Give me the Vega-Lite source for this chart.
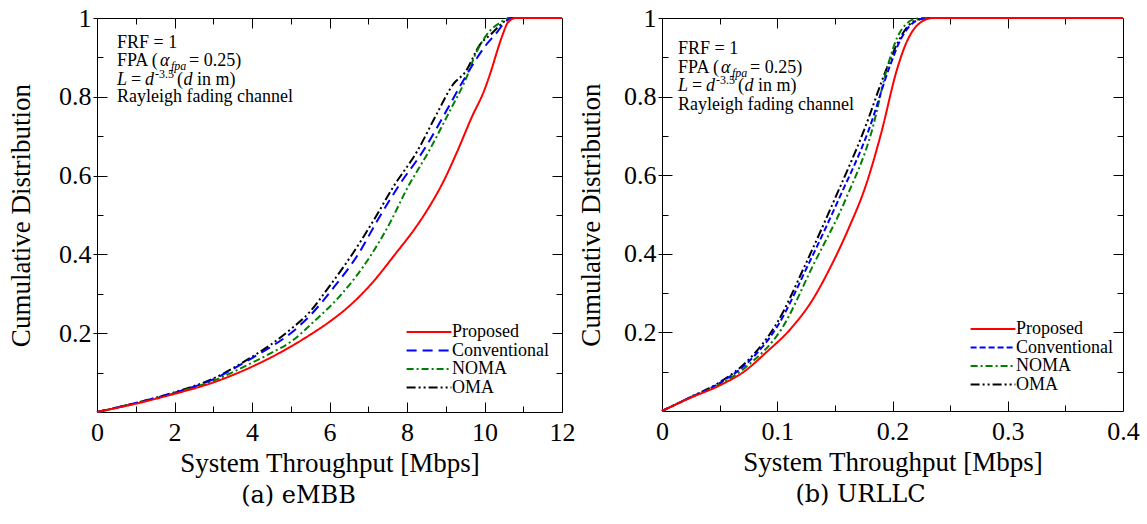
{
  "$schema": "https://vega.github.io/schema/vega-lite/v6.json",
  "padding": {"left": 7, "top": 4, "right": 5, "bottom": 5},
  "background": "white",
  "spacing": 1,
  "datasets": {
    "left": [
      {"s": "OMA", "x": 0, "y": 0}, {"s": "OMA", "x": 1, "y": 0.023}, {"s": "OMA", "x": 2, "y": 0.05}, {"s": "OMA", "x": 3, "y": 0.085}, {"s": "OMA", "x": 4, "y": 0.14}, {"s": "OMA", "x": 4.5, "y": 0.172}, {"s": "OMA", "x": 5, "y": 0.21}, {"s": "OMA", "x": 5.5, "y": 0.255}, {"s": "OMA", "x": 5.93, "y": 0.31}, {"s": "OMA", "x": 6.57, "y": 0.398}, {"s": "OMA", "x": 7.13, "y": 0.485}, {"s": "OMA", "x": 7.65, "y": 0.572}, {"s": "OMA", "x": 8.27, "y": 0.663}, {"s": "OMA", "x": 8.77, "y": 0.757}, {"s": "OMA", "x": 9.2, "y": 0.833}, {"s": "OMA", "x": 9.5, "y": 0.862}, {"s": "OMA", "x": 9.88, "y": 0.932}, {"s": "OMA", "x": 10.2, "y": 0.962}, {"s": "OMA", "x": 10.45, "y": 0.986}, {"s": "OMA", "x": 10.65, "y": 1}, {"s": "OMA", "x": 12, "y": 1},
      {"s": "NOMA", "x": 0, "y": 0}, {"s": "NOMA", "x": 1, "y": 0.022}, {"s": "NOMA", "x": 2, "y": 0.048}, {"s": "NOMA", "x": 3, "y": 0.079}, {"s": "NOMA", "x": 4, "y": 0.125}, {"s": "NOMA", "x": 4.5, "y": 0.15}, {"s": "NOMA", "x": 5, "y": 0.178}, {"s": "NOMA", "x": 5.58, "y": 0.228}, {"s": "NOMA", "x": 6.32, "y": 0.3}, {"s": "NOMA", "x": 7.05, "y": 0.395}, {"s": "NOMA", "x": 7.56, "y": 0.48}, {"s": "NOMA", "x": 7.99, "y": 0.565}, {"s": "NOMA", "x": 8.57, "y": 0.663}, {"s": "NOMA", "x": 9.11, "y": 0.765}, {"s": "NOMA", "x": 9.5, "y": 0.841}, {"s": "NOMA", "x": 9.8, "y": 0.915}, {"s": "NOMA", "x": 10.06, "y": 0.958}, {"s": "NOMA", "x": 10.4, "y": 0.988}, {"s": "NOMA", "x": 10.66, "y": 1}, {"s": "NOMA", "x": 12, "y": 1},
      {"s": "Conventional", "x": 0, "y": 0}, {"s": "Conventional", "x": 1, "y": 0.023}, {"s": "Conventional", "x": 2, "y": 0.049}, {"s": "Conventional", "x": 3, "y": 0.083}, {"s": "Conventional", "x": 4, "y": 0.137}, {"s": "Conventional", "x": 4.5, "y": 0.166}, {"s": "Conventional", "x": 5, "y": 0.2}, {"s": "Conventional", "x": 5.5, "y": 0.245}, {"s": "Conventional", "x": 6.1, "y": 0.315}, {"s": "Conventional", "x": 6.75, "y": 0.402}, {"s": "Conventional", "x": 7.26, "y": 0.49}, {"s": "Conventional", "x": 7.82, "y": 0.579}, {"s": "Conventional", "x": 8.42, "y": 0.663}, {"s": "Conventional", "x": 9.02, "y": 0.765}, {"s": "Conventional", "x": 9.45, "y": 0.841}, {"s": "Conventional", "x": 9.75, "y": 0.89}, {"s": "Conventional", "x": 10.06, "y": 0.934}, {"s": "Conventional", "x": 10.31, "y": 0.962}, {"s": "Conventional", "x": 10.49, "y": 0.985}, {"s": "Conventional", "x": 10.7, "y": 1}, {"s": "Conventional", "x": 12, "y": 1},
      {"s": "Proposed", "x": 0, "y": 0}, {"s": "Proposed", "x": 1, "y": 0.021}, {"s": "Proposed", "x": 2, "y": 0.046}, {"s": "Proposed", "x": 3, "y": 0.075}, {"s": "Proposed", "x": 4, "y": 0.115}, {"s": "Proposed", "x": 5, "y": 0.166}, {"s": "Proposed", "x": 5.5, "y": 0.196}, {"s": "Proposed", "x": 6, "y": 0.229}, {"s": "Proposed", "x": 6.5, "y": 0.268}, {"s": "Proposed", "x": 7.05, "y": 0.322}, {"s": "Proposed", "x": 7.73, "y": 0.405}, {"s": "Proposed", "x": 8.2, "y": 0.465}, {"s": "Proposed", "x": 8.6, "y": 0.525}, {"s": "Proposed", "x": 8.94, "y": 0.585}, {"s": "Proposed", "x": 9.3, "y": 0.662}, {"s": "Proposed", "x": 9.67, "y": 0.748}, {"s": "Proposed", "x": 10.0, "y": 0.818}, {"s": "Proposed", "x": 10.19, "y": 0.872}, {"s": "Proposed", "x": 10.33, "y": 0.917}, {"s": "Proposed", "x": 10.47, "y": 0.958}, {"s": "Proposed", "x": 10.6, "y": 0.988}, {"s": "Proposed", "x": 10.8, "y": 1}, {"s": "Proposed", "x": 12, "y": 1}
    ],
    "right": [
      {"s": "OMA", "x": 0, "y": 0}, {"s": "OMA", "x": 0.025, "y": 0.036}, {"s": "OMA", "x": 0.05, "y": 0.073}, {"s": "OMA", "x": 0.075, "y": 0.13}, {"s": "OMA", "x": 0.1, "y": 0.225}, {"s": "OMA", "x": 0.124, "y": 0.37}, {"s": "OMA", "x": 0.15, "y": 0.54}, {"s": "OMA", "x": 0.175, "y": 0.712}, {"s": "OMA", "x": 0.195, "y": 0.872}, {"s": "OMA", "x": 0.205, "y": 0.94}, {"s": "OMA", "x": 0.213, "y": 0.978}, {"s": "OMA", "x": 0.222, "y": 0.996}, {"s": "OMA", "x": 0.232, "y": 1}, {"s": "OMA", "x": 0.4, "y": 1},
      {"s": "NOMA", "x": 0, "y": 0}, {"s": "NOMA", "x": 0.025, "y": 0.035}, {"s": "NOMA", "x": 0.05, "y": 0.068}, {"s": "NOMA", "x": 0.075, "y": 0.117}, {"s": "NOMA", "x": 0.104, "y": 0.21}, {"s": "NOMA", "x": 0.131, "y": 0.37}, {"s": "NOMA", "x": 0.16, "y": 0.543}, {"s": "NOMA", "x": 0.182, "y": 0.712}, {"s": "NOMA", "x": 0.196, "y": 0.88}, {"s": "NOMA", "x": 0.204, "y": 0.95}, {"s": "NOMA", "x": 0.212, "y": 0.985}, {"s": "NOMA", "x": 0.22, "y": 0.998}, {"s": "NOMA", "x": 0.228, "y": 1}, {"s": "NOMA", "x": 0.4, "y": 1},
      {"s": "Conventional", "x": 0, "y": 0}, {"s": "Conventional", "x": 0.025, "y": 0.035}, {"s": "Conventional", "x": 0.05, "y": 0.071}, {"s": "Conventional", "x": 0.075, "y": 0.125}, {"s": "Conventional", "x": 0.1, "y": 0.215}, {"s": "Conventional", "x": 0.127, "y": 0.373}, {"s": "Conventional", "x": 0.154, "y": 0.543}, {"s": "Conventional", "x": 0.179, "y": 0.712}, {"s": "Conventional", "x": 0.198, "y": 0.88}, {"s": "Conventional", "x": 0.207, "y": 0.945}, {"s": "Conventional", "x": 0.215, "y": 0.98}, {"s": "Conventional", "x": 0.224, "y": 0.997}, {"s": "Conventional", "x": 0.233, "y": 1}, {"s": "Conventional", "x": 0.4, "y": 1},
      {"s": "Proposed", "x": 0, "y": 0}, {"s": "Proposed", "x": 0.025, "y": 0.034}, {"s": "Proposed", "x": 0.05, "y": 0.065}, {"s": "Proposed", "x": 0.072, "y": 0.102}, {"s": "Proposed", "x": 0.09, "y": 0.148}, {"s": "Proposed", "x": 0.1125, "y": 0.212}, {"s": "Proposed", "x": 0.13, "y": 0.28}, {"s": "Proposed", "x": 0.146, "y": 0.365}, {"s": "Proposed", "x": 0.162, "y": 0.465}, {"s": "Proposed", "x": 0.177, "y": 0.575}, {"s": "Proposed", "x": 0.19, "y": 0.705}, {"s": "Proposed", "x": 0.204, "y": 0.87}, {"s": "Proposed", "x": 0.211, "y": 0.93}, {"s": "Proposed", "x": 0.217, "y": 0.965}, {"s": "Proposed", "x": 0.225, "y": 0.99}, {"s": "Proposed", "x": 0.235, "y": 1}, {"s": "Proposed", "x": 0.4, "y": 1}
    ]
  },
  "hconcat": [
    {
      "width": 465,
      "height": 394,
      "title": {"text": "(a) eMBB", "orient": "bottom", "anchor": "middle", "frame": "group", "dx": -31, "offset": 8, "font": "DejaVu Serif, Liberation Serif, serif", "fontSize": 24, "fontWeight": "normal", "color": "black"},
      "data": {"name": "left"},
      "layer": [
        {
          "mark": {"type": "line", "strokeWidth": 2, "interpolate": "monotone"},
          "encoding": {
            "x": {"field": "x", "type": "quantitative", "scale": {"domain": [0, 12], "nice": false, "zero": false},
              "axis": {"orient": "bottom", "values": [0, 2, 4, 6, 8, 10, 12], "ticks": false, "labelPadding": 7, "labelFlush": false, "labelOverlap": false, "title": "System Throughput [Mbps]", "titlePadding": 5}},
            "y": {"field": "y", "type": "quantitative", "scale": {"domain": [0, 1], "nice": false},
              "axis": {"orient": "left", "values": [0.2, 0.4, 0.6, 0.8, 1], "tickSize": 4, "labelPadding": 2, "labelOverlap": false, "labelExpr": "datum.value == 1 ? '1' : format(datum.value, '.1f')", "title": "Cumulative Distribution", "titlePadding": 23}},
            "color": {"field": "s", "type": "nominal",
              "scale": {"domain": ["Proposed", "Conventional", "NOMA", "OMA"], "range": ["#ff0000", "#0000ff", "#008000", "#000000"]},
              "legend": {"title": null, "orient": "none", "legendX": 323, "legendY": 305, "symbolType": "M-2.8,0H2.8", "symbolSize": 256, "symbolStrokeWidth": 2, "labelOffset": 14, "rowPadding": 0.5, "padding": 0}},
            "strokeDash": {"field": "s", "type": "nominal",
              "scale": {"domain": ["Proposed", "Conventional", "NOMA", "OMA"], "range": [[1, 0], [10, 6], [7, 3, 2, 3], [9, 3, 2, 3, 2, 3]]},
              "legend": {"title": null, "orient": "none", "legendX": 323, "legendY": 305, "symbolType": "M-2.8,0H2.8", "symbolSize": 256, "symbolStrokeWidth": 2, "labelOffset": 14, "rowPadding": 0.5, "padding": 0}}
          }
        },
        {
          "mark": {"type": "point", "opacity": 0},
          "encoding": {
            "x": {"field": "x", "type": "quantitative", "axis": {"orient": "bottom", "values": [0, 2, 4, 6, 8, 10, 12], "tickSize": -10, "labels": false, "title": null}},
            "y": {"field": "y", "type": "quantitative", "axis": {"orient": "left", "values": [0.2, 0.4, 0.6, 0.8], "tickSize": -10, "labels": false, "title": null}}
          }
        },
        {
          "mark": {"type": "point", "opacity": 0},
          "encoding": {
            "x": {"field": "x", "type": "quantitative", "axis": {"orient": "bottom", "values": [1, 3, 5, 7, 9, 11], "tickSize": -6, "labels": false, "title": null}},
            "y": {"field": "y", "type": "quantitative", "axis": {"orient": "left", "values": [0.1, 0.3, 0.5, 0.7, 0.9], "tickSize": -6, "labels": false, "title": null}}
          }
        },
        {
          "mark": {"type": "point", "opacity": 0},
          "encoding": {
            "x": {"field": "x", "type": "quantitative", "axis": {"orient": "top", "values": [2, 4, 6, 8, 10], "tickSize": -10, "labels": false, "title": null}},
            "y": {"field": "y", "type": "quantitative", "axis": {"orient": "right", "values": [0.2, 0.4, 0.6, 0.8], "tickSize": -10, "labels": false, "title": null}}
          }
        },
        {
          "mark": {"type": "point", "opacity": 0},
          "encoding": {
            "x": {"field": "x", "type": "quantitative", "axis": {"orient": "top", "values": [1, 3, 5, 7, 9, 11], "tickSize": -6, "labels": false, "title": null}},
            "y": {"field": "y", "type": "quantitative", "axis": {"orient": "right", "values": [0.1, 0.3, 0.5, 0.7, 0.9], "tickSize": -6, "labels": false, "title": null}}
          }
        },
        {
          "data": {"values": [{"x": 0.516, "y": 0.925, "t": "FRF = 1"}, {"x": 0.516, "y": 0.879, "t": "FPA ("}, {"x": 0.516, "y": 0.786, "t": "Rayleigh fading channel"}]},
          "mark": {"type": "text"},
          "encoding": {"x": {"field": "x", "type": "quantitative", "axis": null}, "y": {"field": "y", "type": "quantitative", "axis": null}, "text": {"field": "t"}}
        },
        {
          "data": {"values": [{"x": 0.516, "y": 0.879, "t": "α"}]},
          "mark": {"type": "text", "dx": 43, "fontStyle": "italic"},
          "encoding": {"x": {"field": "x", "type": "quantitative", "axis": null}, "y": {"field": "y", "type": "quantitative", "axis": null}, "text": {"field": "t"}}
        },
        {
          "data": {"values": [{"x": 0.516, "y": 0.879, "t": "fpa"}]},
          "mark": {"type": "text", "dx": 54, "dy": 4, "fontSize": 12, "fontStyle": "italic"},
          "encoding": {"x": {"field": "x", "type": "quantitative", "axis": null}, "y": {"field": "y", "type": "quantitative", "axis": null}, "text": {"field": "t"}}
        },
        {
          "data": {"values": [{"x": 0.516, "y": 0.879, "t": "= 0.25)"}]},
          "mark": {"type": "text", "dx": 72},
          "encoding": {"x": {"field": "x", "type": "quantitative", "axis": null}, "y": {"field": "y", "type": "quantitative", "axis": null}, "text": {"field": "t"}}
        },
        {
          "data": {"values": [{"x": 0.516, "y": 0.83, "t": "L"}]},
          "mark": {"type": "text", "fontStyle": "italic"},
          "encoding": {"x": {"field": "x", "type": "quantitative", "axis": null}, "y": {"field": "y", "type": "quantitative", "axis": null}, "text": {"field": "t"}}
        },
        {
          "data": {"values": [{"x": 0.516, "y": 0.83, "t": "="}]},
          "mark": {"type": "text", "dx": 14},
          "encoding": {"x": {"field": "x", "type": "quantitative", "axis": null}, "y": {"field": "y", "type": "quantitative", "axis": null}, "text": {"field": "t"}}
        },
        {
          "data": {"values": [{"x": 0.516, "y": 0.83, "t": "d"}]},
          "mark": {"type": "text", "dx": 28, "fontStyle": "italic"},
          "encoding": {"x": {"field": "x", "type": "quantitative", "axis": null}, "y": {"field": "y", "type": "quantitative", "axis": null}, "text": {"field": "t"}}
        },
        {
          "data": {"values": [{"x": 0.516, "y": 0.83, "t": "-3.5"}]},
          "mark": {"type": "text", "dx": 38, "dy": -7, "fontSize": 12},
          "encoding": {"x": {"field": "x", "type": "quantitative", "axis": null}, "y": {"field": "y", "type": "quantitative", "axis": null}, "text": {"field": "t"}}
        },
        {
          "data": {"values": [{"x": 0.516, "y": 0.83, "t": "("}]},
          "mark": {"type": "text", "dx": 60},
          "encoding": {"x": {"field": "x", "type": "quantitative", "axis": null}, "y": {"field": "y", "type": "quantitative", "axis": null}, "text": {"field": "t"}}
        },
        {
          "data": {"values": [{"x": 0.516, "y": 0.83, "t": "d"}]},
          "mark": {"type": "text", "dx": 66.5, "fontStyle": "italic"},
          "encoding": {"x": {"field": "x", "type": "quantitative", "axis": null}, "y": {"field": "y", "type": "quantitative", "axis": null}, "text": {"field": "t"}}
        },
        {
          "data": {"values": [{"x": 0.516, "y": 0.83, "t": "in m)"}]},
          "mark": {"type": "text", "dx": 80},
          "encoding": {"x": {"field": "x", "type": "quantitative", "axis": null}, "y": {"field": "y", "type": "quantitative", "axis": null}, "text": {"field": "t"}}
        }
      ],
      "resolve": {"axis": {"x": "independent", "y": "independent"}}
    },
    {
      "width": 461,
      "height": 393,
      "title": {"text": "(b) URLLC", "orient": "bottom", "anchor": "middle", "frame": "group", "dx": -32, "offset": 8, "font": "DejaVu Serif, Liberation Serif, serif", "fontSize": 24, "fontWeight": "normal", "color": "black"},
      "data": {"name": "right"},
      "layer": [
        {
          "mark": {"type": "line", "strokeWidth": 2, "interpolate": "monotone"},
          "encoding": {
            "x": {"field": "x", "type": "quantitative", "scale": {"domain": [0, 0.4], "nice": false, "zero": false},
              "axis": {"orient": "bottom", "values": [0, 0.1, 0.2, 0.3, 0.4], "ticks": false, "labelPadding": 7, "labelFlush": false, "labelOverlap": false, "labelExpr": "datum.value == 0 ? '0' : format(datum.value, '.1f')", "title": "System Throughput [Mbps]", "titlePadding": 5}},
            "y": {"field": "y", "type": "quantitative", "scale": {"domain": [0, 1], "nice": false},
              "axis": {"orient": "left", "values": [0.2, 0.4, 0.6, 0.8, 1], "tickSize": 4, "labelPadding": 2, "labelOverlap": false, "labelExpr": "datum.value == 1 ? '1' : format(datum.value, '.1f')", "title": "Cumulative Distribution", "titlePadding": 18}},
            "color": {"field": "s", "type": "nominal",
              "scale": {"domain": ["Proposed", "Conventional", "NOMA", "OMA"], "range": ["#ff0000", "#0000ff", "#008000", "#000000"]},
              "legend": {"title": null, "orient": "none", "legendX": 322, "legendY": 302, "symbolType": "M-2.8,0H2.8", "symbolSize": 256, "symbolStrokeWidth": 2, "labelOffset": 14, "rowPadding": 0.5, "padding": 0}},
            "strokeDash": {"field": "s", "type": "nominal",
              "scale": {"domain": ["Proposed", "Conventional", "NOMA", "OMA"], "range": [[1, 0], [6, 3], [7, 3, 2, 3], [9, 3, 2, 3, 2, 3]]},
              "legend": {"title": null, "orient": "none", "legendX": 322, "legendY": 302, "symbolType": "M-2.8,0H2.8", "symbolSize": 256, "symbolStrokeWidth": 2, "labelOffset": 14, "rowPadding": 0.5, "padding": 0}}
          }
        },
        {
          "mark": {"type": "point", "opacity": 0},
          "encoding": {
            "x": {"field": "x", "type": "quantitative", "axis": {"orient": "bottom", "values": [0.1, 0.2, 0.3], "tickSize": -10, "labels": false, "title": null}},
            "y": {"field": "y", "type": "quantitative", "axis": {"orient": "left", "values": [0.2, 0.4, 0.6, 0.8], "tickSize": -10, "labels": false, "title": null}}
          }
        },
        {
          "mark": {"type": "point", "opacity": 0},
          "encoding": {
            "x": {"field": "x", "type": "quantitative", "axis": {"orient": "bottom", "values": [0.05, 0.15, 0.25, 0.35], "tickSize": -6, "labels": false, "title": null}},
            "y": {"field": "y", "type": "quantitative", "axis": {"orient": "left", "values": [0.1, 0.3, 0.5, 0.7, 0.9], "tickSize": -6, "labels": false, "title": null}}
          }
        },
        {
          "mark": {"type": "point", "opacity": 0},
          "encoding": {
            "x": {"field": "x", "type": "quantitative", "axis": {"orient": "top", "values": [0.1, 0.2, 0.3], "tickSize": -10, "labels": false, "title": null}},
            "y": {"field": "y", "type": "quantitative", "axis": {"orient": "right", "values": [0.2, 0.4, 0.6, 0.8], "tickSize": -10, "labels": false, "title": null}}
          }
        },
        {
          "mark": {"type": "point", "opacity": 0},
          "encoding": {
            "x": {"field": "x", "type": "quantitative", "axis": {"orient": "top", "values": [0.05, 0.15, 0.25, 0.35], "tickSize": -6, "labels": false, "title": null}},
            "y": {"field": "y", "type": "quantitative", "axis": {"orient": "right", "values": [0.1, 0.3, 0.5, 0.7, 0.9], "tickSize": -6, "labels": false, "title": null}}
          }
        },
        {
          "data": {"values": [{"x": 0.0139, "y": 0.909, "t": "FRF = 1"}, {"x": 0.0139, "y": 0.861, "t": "FPA ("}, {"x": 0.0139, "y": 0.766, "t": "Rayleigh fading channel"}]},
          "mark": {"type": "text"},
          "encoding": {"x": {"field": "x", "type": "quantitative", "axis": null}, "y": {"field": "y", "type": "quantitative", "axis": null}, "text": {"field": "t"}}
        },
        {
          "data": {"values": [{"x": 0.0139, "y": 0.861, "t": "α"}]},
          "mark": {"type": "text", "dx": 43, "fontStyle": "italic"},
          "encoding": {"x": {"field": "x", "type": "quantitative", "axis": null}, "y": {"field": "y", "type": "quantitative", "axis": null}, "text": {"field": "t"}}
        },
        {
          "data": {"values": [{"x": 0.0139, "y": 0.861, "t": "fpa"}]},
          "mark": {"type": "text", "dx": 54, "dy": 4, "fontSize": 12, "fontStyle": "italic"},
          "encoding": {"x": {"field": "x", "type": "quantitative", "axis": null}, "y": {"field": "y", "type": "quantitative", "axis": null}, "text": {"field": "t"}}
        },
        {
          "data": {"values": [{"x": 0.0139, "y": 0.861, "t": "= 0.25)"}]},
          "mark": {"type": "text", "dx": 72},
          "encoding": {"x": {"field": "x", "type": "quantitative", "axis": null}, "y": {"field": "y", "type": "quantitative", "axis": null}, "text": {"field": "t"}}
        },
        {
          "data": {"values": [{"x": 0.0139, "y": 0.814, "t": "L"}]},
          "mark": {"type": "text", "fontStyle": "italic"},
          "encoding": {"x": {"field": "x", "type": "quantitative", "axis": null}, "y": {"field": "y", "type": "quantitative", "axis": null}, "text": {"field": "t"}}
        },
        {
          "data": {"values": [{"x": 0.0139, "y": 0.814, "t": "="}]},
          "mark": {"type": "text", "dx": 14},
          "encoding": {"x": {"field": "x", "type": "quantitative", "axis": null}, "y": {"field": "y", "type": "quantitative", "axis": null}, "text": {"field": "t"}}
        },
        {
          "data": {"values": [{"x": 0.0139, "y": 0.814, "t": "d"}]},
          "mark": {"type": "text", "dx": 28, "fontStyle": "italic"},
          "encoding": {"x": {"field": "x", "type": "quantitative", "axis": null}, "y": {"field": "y", "type": "quantitative", "axis": null}, "text": {"field": "t"}}
        },
        {
          "data": {"values": [{"x": 0.0139, "y": 0.814, "t": "-3.5"}]},
          "mark": {"type": "text", "dx": 38, "dy": -7, "fontSize": 12},
          "encoding": {"x": {"field": "x", "type": "quantitative", "axis": null}, "y": {"field": "y", "type": "quantitative", "axis": null}, "text": {"field": "t"}}
        },
        {
          "data": {"values": [{"x": 0.0139, "y": 0.814, "t": "("}]},
          "mark": {"type": "text", "dx": 60},
          "encoding": {"x": {"field": "x", "type": "quantitative", "axis": null}, "y": {"field": "y", "type": "quantitative", "axis": null}, "text": {"field": "t"}}
        },
        {
          "data": {"values": [{"x": 0.0139, "y": 0.814, "t": "d"}]},
          "mark": {"type": "text", "dx": 66.5, "fontStyle": "italic"},
          "encoding": {"x": {"field": "x", "type": "quantitative", "axis": null}, "y": {"field": "y", "type": "quantitative", "axis": null}, "text": {"field": "t"}}
        },
        {
          "data": {"values": [{"x": 0.0139, "y": 0.814, "t": "in m)"}]},
          "mark": {"type": "text", "dx": 80},
          "encoding": {"x": {"field": "x", "type": "quantitative", "axis": null}, "y": {"field": "y", "type": "quantitative", "axis": null}, "text": {"field": "t"}}
        }
      ],
      "resolve": {"axis": {"x": "independent", "y": "independent"}}
    }
  ],
  "resolve": {
    "scale": {"color": "independent", "strokeDash": "independent"},
    "legend": {"color": "independent", "strokeDash": "independent"}
  },
  "config": {
    "view": {"stroke": "black", "strokeWidth": 1},
    "axis": {"labelFont": "Liberation Serif, Times New Roman, serif", "titleFont": "Liberation Serif, Times New Roman, serif", "labelFontSize": 26, "titleFontSize": 27, "labelColor": "black", "titleColor": "black", "tickColor": "black", "tickWidth": 1, "titleFontWeight": "normal", "grid": false, "domain": false},
    "legend": {"labelFont": "Liberation Serif, Times New Roman, serif", "labelFontSize": 18, "labelColor": "black"},
    "text": {"font": "Liberation Serif, Times New Roman, serif", "fontSize": 18, "align": "left", "baseline": "alphabetic", "color": "black"}
  }
}
